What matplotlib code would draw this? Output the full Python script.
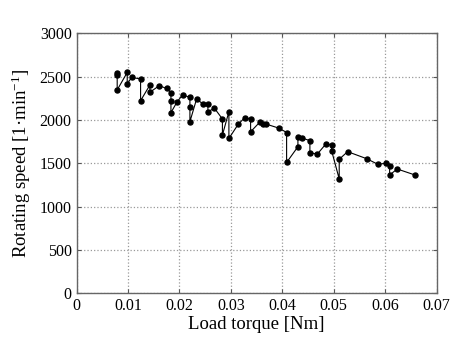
import matplotlib
matplotlib.use("Agg")
import matplotlib.pyplot as plt

plt.rcParams['font.family'] = ['Liberation Serif', 'DejaVu Serif']
plt.rcParams['mathtext.default'] = 'regular'

torque = [0.00789, 0.00789, 0.00789, 0.00984, 0.00984, 0.01069, 0.01244, 0.01244,
          0.01425, 0.01425, 0.01606, 0.01750, 0.01834, 0.01834, 0.01834, 0.01956,
          0.02061, 0.02203, 0.02203, 0.02203, 0.02333, 0.02462, 0.02553, 0.02553,
          0.02680, 0.02835, 0.02835, 0.02961, 0.02961, 0.03142, 0.03272, 0.03383,
          0.03383, 0.03564, 0.03628, 0.03690, 0.03940, 0.04083, 0.04083, 0.04303,
          0.04303, 0.04381, 0.04536, 0.04536, 0.04682, 0.04847, 0.04958, 0.04958,
          0.05106, 0.05106, 0.05269, 0.05639, 0.05858, 0.06010, 0.06086, 0.06086,
          0.06234, 0.06578]
speed = [2545, 2513, 2346, 2548, 2415, 2490, 2473, 2222,
         2403, 2319, 2395, 2363, 2315, 2219, 2084, 2211,
         2288, 2261, 2153, 1980, 2242, 2181, 2181, 2095,
         2135, 2011, 1826, 2095, 1786, 1950, 2028, 2008,
         1863, 1976, 1953, 1951, 1904, 1855, 1509, 1691,
         1798, 1792, 1761, 1619, 1607, 1723, 1711, 1645,
         1319, 1546, 1634, 1553, 1488, 1500, 1472, 1365,
         1434, 1365]

xticks = [0, 0.01, 0.02, 0.03, 0.04, 0.05, 0.06, 0.07]
xticklabels = ['0', '0.01', '0.02', '0.03', '0.04', '0.05', '0.06', '0.07']
yticks = [0, 500, 1000, 1500, 2000, 2500, 3000]

fig = plt.figure(figsize=(4.7, 3.5), dpi=100)
ax = fig.add_axes([0.163, 0.162, 0.766, 0.743])
ax.plot(torque, speed, '-o', color='black', lw=0.8, ms=3.6)
ax.set_xlim(0, 0.07)
ax.set_ylim(0, 3000)
ax.set_xticks(xticks)
ax.set_xticklabels(xticklabels)
ax.set_yticks(yticks)
ax.grid(True, linestyle=':', color='#999999', lw=0.9)
ax.tick_params(direction='in', length=3, labelsize=11.5, top=True, right=True,
               color='#555555')
for s in ax.spines.values():
    s.set_color('#666666')
    s.set_linewidth(1.0)
ax.set_xlabel('Load torque [Nm]', fontsize=13.5, labelpad=1)
ax.set_ylabel('Rotating speed [1·min$^{-1}$]', fontsize=13.5, labelpad=5)
fig.savefig('out.png', dpi=100)
